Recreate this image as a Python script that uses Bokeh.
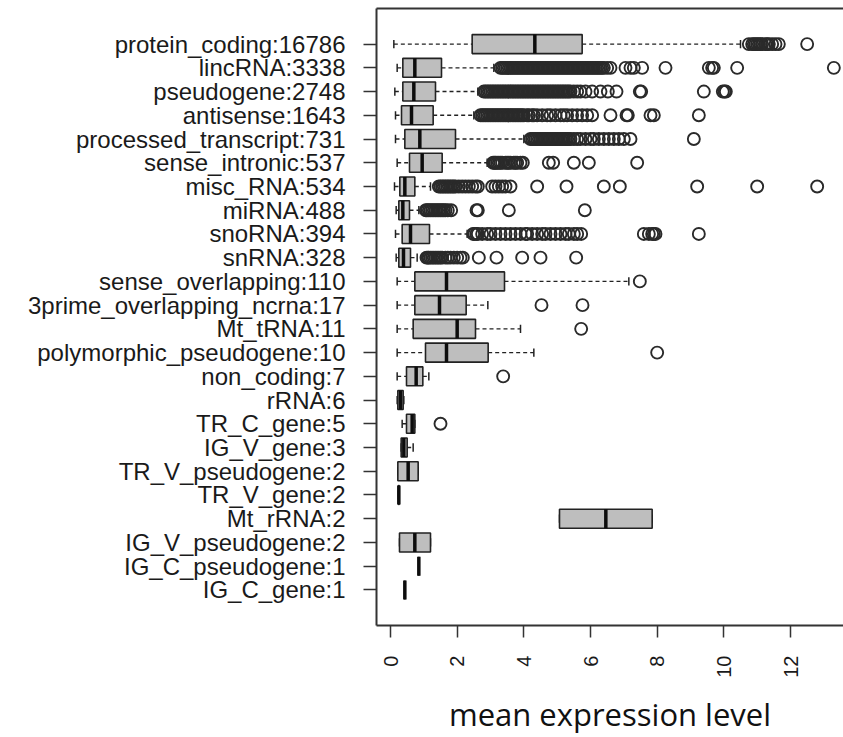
import math
from bokeh.plotting import figure
from bokeh.models import FactorRange, Range1d, LinearAxis, CategoricalAxis, FixedTicker, ColumnDataSource
from bokeh.embed import file_html
from bokeh.resources import INLINE

categories = [
    "protein_coding:16786", "lincRNA:3338", "pseudogene:2748", "antisense:1643",
    "processed_transcript:731", "sense_intronic:537", "misc_RNA:534", "miRNA:488",
    "snoRNA:394", "snRNA:328", "sense_overlapping:110", "3prime_overlapping_ncrna:17",
    "Mt_tRNA:11", "polymorphic_pseudogene:10", "non_coding:7", "rRNA:6",
    "TR_C_gene:5", "IG_V_gene:3", "TR_V_pseudogene:2", "TR_V_gene:2",
    "Mt_rRNA:2", "IG_V_pseudogene:2", "IG_C_pseudogene:1", "IG_C_gene:1",
]
whisker_low = [0.10, 0.20, 0.13, 0.15, 0.15, 0.20, 0.12, 0.17, 0.15, 0.17, 0.20, 0.20,
               0.20, 0.20, 0.20, 0.20, 0.35, 0.32, 0.22, 0.24, 5.07, 0.27, 0.85, 0.43]
q1 = [2.45, 0.37, 0.37, 0.33, 0.43, 0.57, 0.28, 0.25, 0.35, 0.25, 0.73, 0.73,
      0.68, 1.05, 0.48, 0.22, 0.48, 0.32, 0.22, 0.24, 5.07, 0.27, 0.85, 0.43]
median = [4.33, 0.73, 0.70, 0.63, 0.88, 0.95, 0.43, 0.37, 0.60, 0.39, 1.68, 1.47,
          2.00, 1.68, 0.77, 0.30, 0.65, 0.40, 0.53, 0.25, 6.46, 0.73, 0.85, 0.43]
q3 = [5.75, 1.53, 1.35, 1.28, 1.95, 1.55, 0.73, 0.57, 1.17, 0.60, 3.42, 2.27,
      2.55, 2.93, 0.97, 0.38, 0.73, 0.50, 0.83, 0.26, 7.85, 1.20, 0.85, 0.43]
whisker_high = [10.5, 3.1, 2.62, 2.5, 4.0, 2.9, 1.2, 0.85, 2.3, 0.8, 7.15, 2.92,
                3.9, 4.3, 1.15, 0.40, 0.73, 0.68, 0.83, 0.26, 7.85, 1.20, 0.85, 0.43]

out_protein_coding = [10.75, 10.85, 10.9, 10.95, 11.0, 11.05, 11.1, 11.15, 11.25, 11.3,
                      11.35, 11.45, 11.55, 11.65, 12.5]
out_lincRNA = [3.3, 3.35, 3.4, 3.45, 3.5, 3.55, 3.6, 3.65, 3.7, 3.75, 3.8, 3.85, 3.9, 3.95,
               4.0, 4.05, 4.1, 4.15, 4.2, 4.25, 4.3, 4.35, 4.4, 4.45, 4.5, 4.55, 4.6, 4.65,
               4.7, 4.75, 4.8, 4.85, 4.9, 4.95, 5.0, 5.05, 5.1, 5.15, 5.2, 5.25, 5.3, 5.35,
               5.4, 5.45, 5.5, 5.55, 5.6, 5.65, 5.7, 5.75, 5.8, 5.85, 5.9, 5.95, 6.0, 6.05,
               6.1, 6.15, 6.2, 6.25, 6.3, 6.35, 6.4,
               6.5, 6.6, 7.05, 7.2, 7.3, 7.55, 8.25, 9.55, 9.65, 9.7, 10.4, 13.3]
out_pseudogene = [2.8, 2.85, 2.9, 2.95, 3.0, 3.05, 3.1, 3.15, 3.2, 3.25, 3.3, 3.35, 3.4,
                  3.45, 3.5, 3.55, 3.6, 3.65, 3.7, 3.75, 3.8, 3.85, 3.9, 3.95, 4.0, 4.05,
                  4.1, 4.15, 4.2, 4.25, 4.3, 4.35, 4.4, 4.45, 4.5, 4.55, 4.6, 4.65, 4.7,
                  4.75, 4.8, 4.85, 4.9, 4.95, 5.0, 5.05, 5.1, 5.15, 5.2, 5.25, 5.3, 5.35,
                  5.4, 5.5, 5.6, 5.7,
                  5.85, 6.05, 6.3, 6.52, 6.78, 7.48, 7.52, 9.4, 9.97, 10.02, 10.06]
out_antisense = [2.7, 2.75, 2.8, 2.85, 2.9, 2.95, 3.0, 3.05, 3.1, 3.15, 3.2, 3.25, 3.3, 3.35,
                 3.4, 3.45, 3.5, 3.55, 3.6, 3.65, 3.7, 3.75, 3.8, 3.85, 3.9, 3.95, 4.0,
                 4.1, 4.15, 4.25, 4.3, 4.4, 4.55, 4.7, 4.8, 4.95, 5.1, 5.2, 5.3, 5.45, 5.6,
                 5.75, 5.9, 6.05, 6.6, 7.08, 7.12, 7.8, 7.9, 9.25]
out_processed_transcript = [4.2, 4.25, 4.3, 4.35, 4.4, 4.45, 4.5, 4.55, 4.6, 4.65, 4.7, 4.75,
                            4.8, 4.85, 4.9, 4.95, 5.0, 5.05, 5.1, 5.15, 5.2, 5.25, 5.3, 5.35,
                            5.4, 5.5, 5.6, 5.7, 5.85, 6.0, 6.1, 6.25, 6.4, 6.55, 6.7, 6.85,
                            7.0, 7.2, 9.1]
out_sense_intronic = [3.08, 3.12, 3.15, 3.2, 3.25, 3.3, 3.35, 3.45, 3.5, 3.55, 3.6, 3.7, 3.75,
                      3.8, 3.9, 3.97, 4.75, 4.88, 5.5, 5.95, 7.4]
out_misc_RNA = [1.45, 1.5, 1.55, 1.6, 1.65, 1.7, 1.75, 1.8, 1.85, 1.9, 1.95, 2.05, 2.15, 2.25,
                2.35, 2.45, 2.55, 2.62, 3.05, 3.15, 3.25, 3.35, 3.45, 3.6, 4.4, 5.28, 6.4,
                6.88, 9.2, 11.0, 12.8]
out_miRNA = [1.06, 1.1, 1.15, 1.2, 1.25, 1.3, 1.35, 1.4, 1.45, 1.5, 1.55, 1.6, 1.65, 1.72,
             1.82, 2.58, 2.62, 3.55, 5.83]
out_snoRNA = [2.48, 2.52, 2.58, 2.62, 2.75, 2.9, 3.0, 3.15, 3.3, 3.45, 3.6, 3.75, 3.9, 4.05,
              4.1, 4.25, 4.4, 4.55, 4.65, 4.8, 4.95, 5.1, 5.25, 5.35, 5.5, 5.6, 5.72,
              7.6, 7.75, 7.85, 7.9, 7.95, 9.25]
out_snRNA = [1.08, 1.12, 1.15, 1.2, 1.25, 1.3, 1.35, 1.4, 1.45, 1.5, 1.55, 1.65, 1.72, 1.8,
             1.9, 2.0, 2.1, 2.17, 2.65, 3.18, 3.95, 4.5, 5.57]
out_sense_overlapping = [7.48]
out_3prime_overlapping_ncrna = [4.53, 5.76]
out_Mt_tRNA = [5.72]
out_polymorphic_pseudogene = [8.0]
out_non_coding = [3.38]
out_TR_C_gene = [1.5]

outliers = [
    out_protein_coding, out_lincRNA, out_pseudogene, out_antisense,
    out_processed_transcript, out_sense_intronic, out_misc_RNA, out_miRNA,
    out_snoRNA, out_snRNA, out_sense_overlapping, out_3prime_overlapping_ncrna,
    out_Mt_tRNA, out_polymorphic_pseudogene, out_non_coding, [],
    out_TR_C_gene, [], [], [], [], [], [], [],
]

x_ticks = [0, 2, 4, 6, 8, 10, 12]
x_label = "mean expression level"

box_src = ColumnDataSource(dict(cat=categories, low=whisker_low, q1=q1, med=median,
                                q3=q3, high=whisker_high))
ox, oy = [], []
for cat, vals in zip(categories, outliers):
    for v in vals:
        ox.append(v)
        oy.append(cat)
out_src = ColumnDataSource(dict(x=ox, cat=oy))

p = figure(
    width=843, height=737, output_backend="svg", toolbar_location=None,
    y_range=FactorRange(factors=categories[::-1], range_padding=1,
                        range_padding_units="absolute"),
    x_range=Range1d(-0.42, 13.59),
    x_axis_location=None, y_axis_location=None,
    min_border_left=376, min_border_right=0, min_border_top=8, min_border_bottom=110,
)
p.outline_line_color = None
p.xgrid.visible = False
p.ygrid.visible = False
p.background_fill_color = "white"
p.border_fill_color = "white"

frame_color = "#333333"
text_color = "#1a1a1a"

yax = CategoricalAxis()
yax.axis_line_color = frame_color
yax.axis_line_width = 2
yax.major_tick_out = 13
yax.major_tick_in = 0
yax.major_tick_line_width = 1.5
yax.major_tick_line_color = frame_color
yax.major_label_standoff = 18
yax.major_label_text_font = "Liberation Sans"
yax.major_label_text_font_size = "24px"
yax.major_label_text_color = text_color
p.add_layout(yax, "left")

xax = LinearAxis(ticker=FixedTicker(ticks=x_ticks))
xax.axis_line_color = frame_color
xax.axis_line_width = 2
xax.major_tick_out = 12
xax.major_tick_in = 0
xax.minor_tick_out = 0
xax.minor_tick_in = 0
xax.major_tick_line_width = 1.5
xax.major_tick_line_color = frame_color
xax.major_label_orientation = math.pi / 2
xax.major_label_standoff = 18
xax.major_label_text_font = "Liberation Sans"
xax.major_label_text_font_size = "20px"
xax.major_label_text_color = text_color
xax.axis_label = x_label
xax.axis_label_text_font = "Open Sans"
xax.axis_label_text_font_size = "31px"
xax.axis_label_text_font_style = "normal"
xax.axis_label_text_color = "#111111"
xax.axis_label_standoff = 12
p.add_layout(xax, "below")

tax = LinearAxis(ticker=FixedTicker(ticks=[]))
tax.axis_line_color = frame_color
tax.axis_line_width = 2
tax.major_tick_out = 0
tax.major_tick_in = 0
tax.minor_tick_out = 0
tax.minor_tick_in = 0
tax.major_label_standoff = 0
p.add_layout(tax, "above")

line_col = "#222222"
p.segment(x0="low", y0="cat", x1="q1", y1="cat", source=box_src,
          line_color=line_col, line_width=1.4, line_dash="4 3")
p.segment(x0="q3", y0="cat", x1="high", y1="cat", source=box_src,
          line_color=line_col, line_width=1.4, line_dash="4 3")
p.hbar(y="cat", left="low", right="low", height=0.35, source=box_src,
       fill_alpha=0, line_color=line_col, line_width=1.5)
p.hbar(y="cat", left="high", right="high", height=0.35, source=box_src,
       fill_alpha=0, line_color=line_col, line_width=1.5)
p.hbar(y="cat", left="q1", right="q3", height=0.8, source=box_src,
       fill_color="#bebebe", line_color=line_col, line_width=1.6)
p.hbar(y="cat", left="med", right="med", height=0.8, source=box_src,
       fill_alpha=0, line_color="#0d0d0d", line_width=3.5)
p.scatter(x="x", y="cat", source=out_src, marker="circle", size=12,
          fill_color=None, line_color="#2a2a2a", line_width=1.9)

open("out.html", "w").write(file_html(p, INLINE))
